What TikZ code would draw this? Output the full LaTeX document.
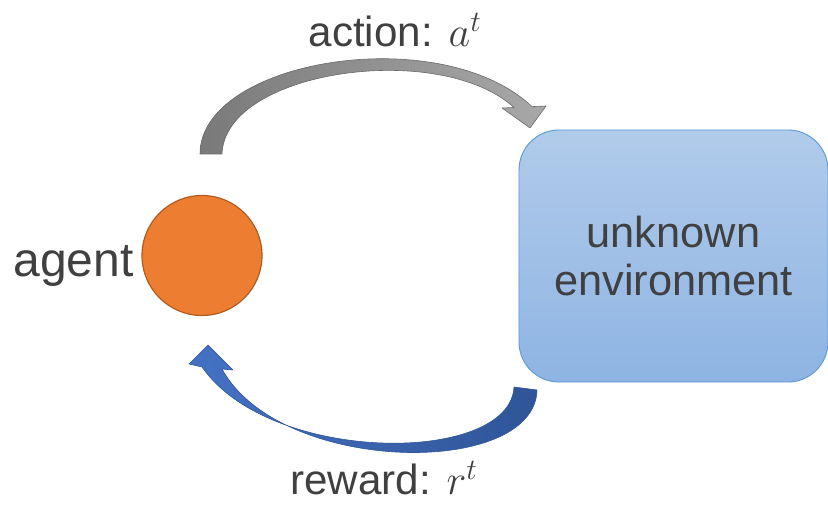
\documentclass[tikz,border=0pt]{standalone}
\usepackage{fix-cm}
\usepackage{fontspec}
\setmainfont{Liberation Sans}
\usetikzlibrary{positioning}
\definecolor{agentfill}{HTML}{ED7D31}
\definecolor{agentline}{HTML}{AE5A21}
\definecolor{envtop}{HTML}{B1CBEA}
\definecolor{envbottom}{HTML}{8EB4E3}
\definecolor{envline}{HTML}{5B9BD5}
\definecolor{labeltext}{HTML}{404040}
\definecolor{actionhead}{HTML}{A8A8A8}
\definecolor{actiontail}{HTML}{7A7A7A}
\definecolor{rewardhead}{HTML}{4472C4}
\definecolor{rewardtail}{HTML}{2F5597}

\begin{document}
\begin{tikzpicture}[
      x=0.03cm,y=-0.03cm,
      agentnode/.style={circle,draw=agentline,line width=1pt,fill=agentfill,minimum size=3.6cm,inner sep=0pt},
      envbox/.style={draw=envline,line width=0.8pt,rounded corners=1.2cm,top color=envtop,bottom color=envbottom,
        minimum width=9.27cm,minimum height=7.56cm,align=center,text=labeltext,font=\fontsize{37}{41}\selectfont},
      lbl/.style={text=labeltext,font=\fontsize{36}{40}\selectfont,inner sep=0pt},
      bentarrow/.style={line width=0.5pt,line join=round}
    ]
    \useasboundingbox (0,0) rectangle (828,511);
    \node[agentnode] (agent) at (202,255.5) {};
    \node[lbl,font=\fontsize{41}{44}\selectfont,anchor=base east] (agentlbl) at (134,277) {agent};
    \node[envbox] (env) at (673.5,256) {unknown\\environment};
    \node[lbl,anchor=base] (actionlbl) at (395,47) {action: $a^t$};
    \node[lbl,anchor=base] (rewardlbl) at (384,495) {reward: $r^t$};
    % action: agent -> environment
    \draw[bentarrow,draw=actiontail!85!black,left color=actiontail,right color=actionhead]
      (200,154) .. controls (200,60) and (440,20) .. (532,106.6) -- (546,106) -- (530,128) -- (502,108)
      -- (514,107.5) .. controls (440,40) and (225,70) .. (222,154) -- cycle;
    % reward: environment -> agent
    \draw[bentarrow,draw=rewardtail,left color=rewardhead,right color=rewardtail]
      (537,390) .. controls (535,478) and (280,475) .. (222,369) -- (233,370) -- (208,345) -- (189,364)
      -- (202,367) .. controls (270,465) and (510,465) .. (514,387) -- cycle;
  \end{tikzpicture}
\end{document}
